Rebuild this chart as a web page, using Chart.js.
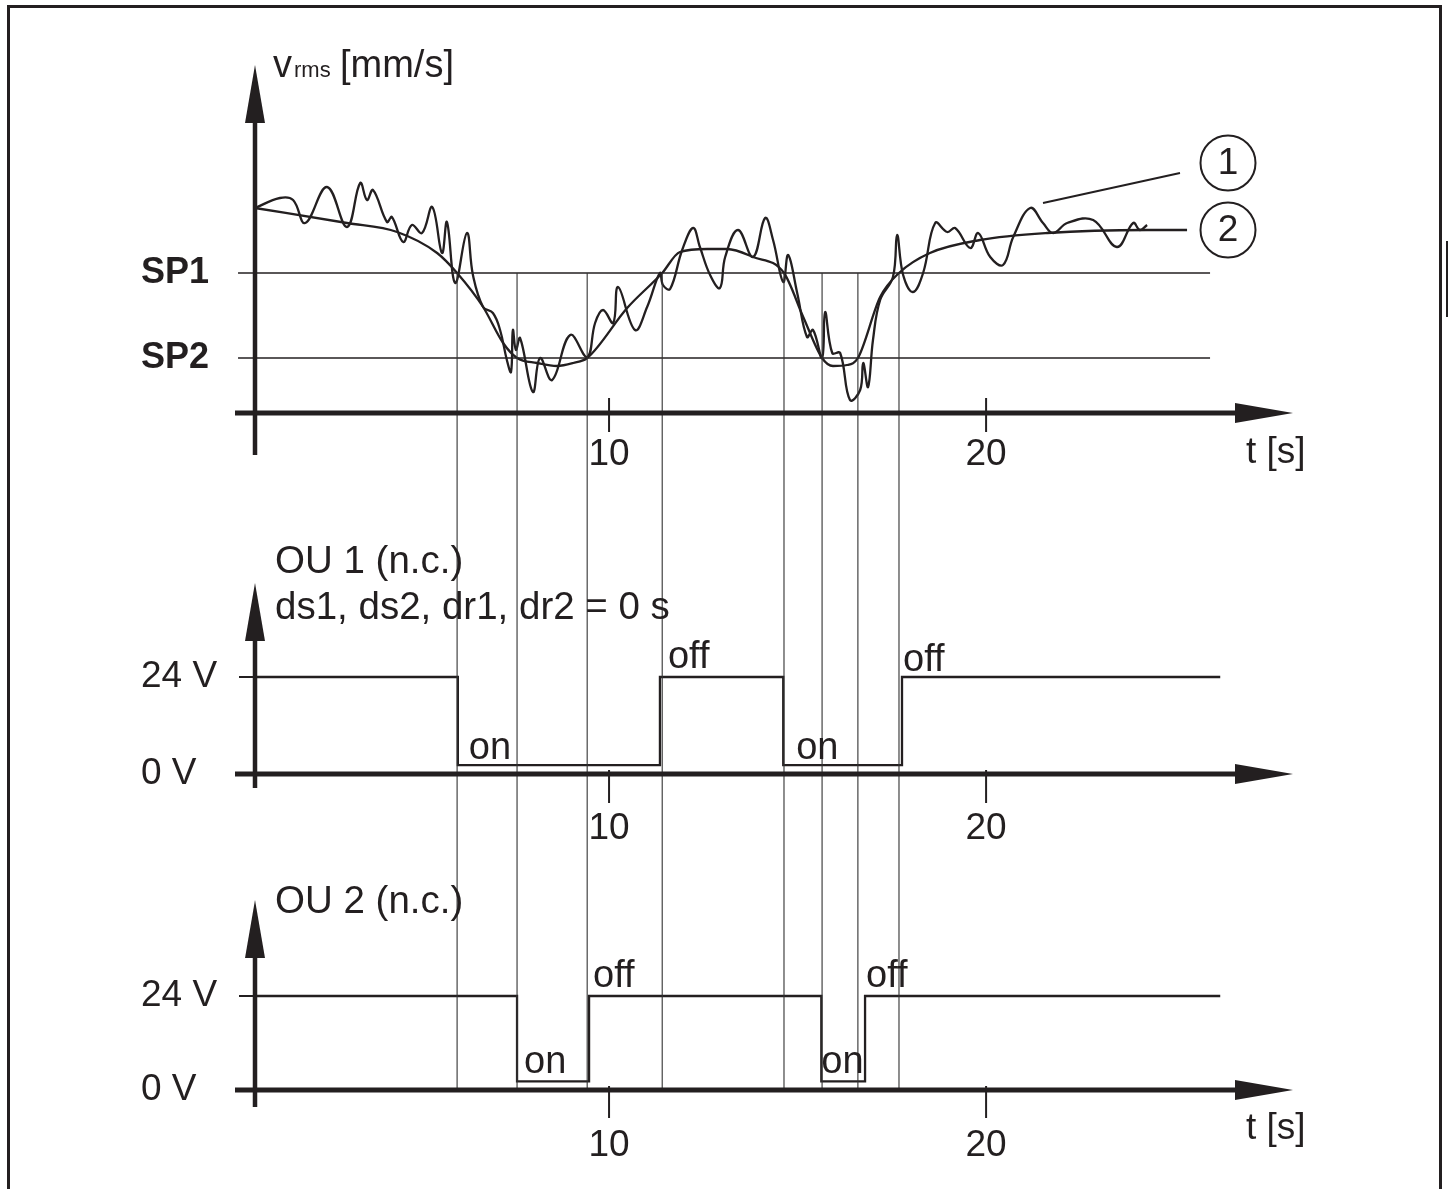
<!DOCTYPE html>
<html><head><meta charset="utf-8">
<script src="https://cdn.jsdelivr.net/npm/chart.js@4.4.1/dist/chart.umd.min.js"></script>
<style>
html,body{margin:0;padding:0;background:#fff;}
body{width:1448px;height:1189px;position:relative;overflow:hidden;}
canvas{position:absolute;left:0;}
#frame{position:absolute;left:7px;top:5px;width:1435px;height:1300px;border:3px solid #231f20;border-bottom:none;box-sizing:border-box;}
#tab{position:absolute;left:1446px;top:241px;width:3px;height:76px;background:#231f20;}
</style></head>
<body>
<div id="frame"></div><div id="tab"></div>
<canvas id="c1" width="1448" height="480" style="top:0px"></canvas>
<canvas id="c2" width="1448" height="380" style="top:480px"></canvas>
<canvas id="c3" width="1448" height="329" style="top:860px"></canvas>
<script>
// ---------- data ----------
const xTickValues = [10, 20];
const spNames = ['SP2', 'SP1'];
const spValues = [5.5, 14];
// curve 1: measured v_rms (noisy)
const noisyT = [0.61,1.27,1.62,1.94,2.52,3.05,3.40,3.58,3.74,4.11,4.24,4.54,4.77,5.04,5.31,5.57,5.70,5.92,6.23,6.39,6.66,6.92,7.11,7.29,7.40,7.45,7.53,7.64,7.98,8.17,8.49,8.97,9.42,9.63,9.84,10.11,10.24,10.69,11.01,11.35,11.43,11.62,11.94,12.23,12.41,12.68,12.94,13.08,13.42,13.82,14.14,14.35,14.62,14.75,14.99,15.25,15.41,15.65,15.73,15.92,16.13,16.39,16.66,16.74,16.87,17.00,17.19,17.53,17.64,17.80,18.06,18.33,18.65,18.97,19.18,19.58,19.79,20.11,20.45,20.72,21.17,21.51,21.78,22.15,22.84,23.47,23.90,24.08,24.27];
const noisyV = [20.5,21.5,21.3,19.0,22.6,18.6,23.0,21.3,22.3,19.1,19.6,17.1,18.8,18.0,20.6,16.0,19.1,13.0,18.0,13.8,10.6,10.0,8.3,5.3,4.1,8.3,6.3,7.5,2.1,5.5,3.3,7.8,5.6,9.0,10.3,9.0,12.6,8.3,10.6,14.0,12.8,12.4,16.3,18.5,16.6,13.8,12.5,15.6,18.3,15.6,19.5,17.3,13.1,15.8,12.0,7.6,8.3,5.5,10.1,6.0,6.0,1.3,2.3,5.0,2.6,7.3,11.3,13.6,17.8,13.8,12.1,14.0,19.0,18.1,18.5,16.5,18.0,15.6,14.8,17.6,20.5,19.0,18.0,19.0,19.3,16.6,19.0,18.3,18.8];
// curve 2: smoothed v_rms
const smoothT = [0.61,3.05,4.38,5.44,5.97,6.66,7.19,7.56,8.09,8.62,9.05,9.42,10.48,11.41,11.88,12.60,13.13,13.82,14.64,15.15,15.65,15.94,16.31,16.60,17.19,17.69,18.51,19.84,21.62,24.27,25.33];
const smoothV = [20.5,19.0,18.1,16.0,14.0,10.6,7.0,5.5,5.0,4.7,5.0,5.5,10.5,14.0,16.1,16.4,16.4,15.6,14.0,9.6,5.5,4.7,4.8,5.5,11.6,14.0,16.0,17.3,18.0,18.3,18.3];
const spLineT = [0.16, 25.94];
// switching instants (vertical guide lines)
const switchTimes = [5.97, 7.56, 9.42, 11.41, 14.64, 15.65, 16.60, 17.69];
// outputs
const voltNames = ['0 V', '24 V'];
const voltValues = [0, 24];
const ou1T = [0.61, 5.99, 11.35, 14.62, 17.77, 26.21];
const ou1V = [24, 2.2, 24, 2.2, 24, 24];
const ou2T = [0.61, 7.56, 9.47, 15.63, 16.79, 26.21];
const ou2V = [24, 2.2, 24, 2.2, 24, 24];

// ---------- style / layout ----------
const INK = '#231f20';
const FAM = "'Liberation Sans', Arial, Helvetica, sans-serif";
Chart.defaults.font.family = FAM;
Chart.defaults.color = INK;
const T0 = 0.61, TMAX = 28.14;

const pts = (ts, vs) => ts.map((t, i) => ({x: t, y: vs[i]}));
function vlines(top, bottom) {
  const d = [];
  switchTimes.forEach(t => { d.push({x: t, y: top}, {x: t, y: bottom}, {x: t, y: null}); });
  return {data: d, borderColor: '#333333', borderWidth: 1.1, spanGaps: false, clip: false, pointRadius: 0, tension: 0};
}

function decor(o) {
  return {
    id: 'decor',
    afterDatasetsDraw(chart) {
      const {ctx, chartArea: ca, scales: {x, y}} = chart;
      const ax = ca.left, ay = y.getPixelForValue(0);
      ctx.save();
      ctx.fillStyle = INK; ctx.strokeStyle = INK; ctx.lineCap = 'butt';
      // y axis
      ctx.lineWidth = 4.5;
      ctx.beginPath(); ctx.moveTo(ax, ay + o.yBelow); ctx.lineTo(ax, ca.top + 50); ctx.stroke();
      ctx.beginPath(); ctx.moveTo(ax, ca.top); ctx.lineTo(ax - 10, ca.top + 58); ctx.lineTo(ax + 10, ca.top + 58); ctx.closePath(); ctx.fill();
      // x axis
      ctx.lineWidth = 5;
      ctx.beginPath(); ctx.moveTo(ax - 20, ay); ctx.lineTo(ca.right - 50, ay); ctx.stroke();
      ctx.beginPath(); ctx.moveTo(ca.right, ay); ctx.lineTo(ca.right - 58, ay - 10); ctx.lineTo(ca.right - 58, ay + 10); ctx.closePath(); ctx.fill();
      // ticks
      ctx.lineWidth = 2;
      x.ticks.forEach(t => {
        const px = x.getPixelForValue(t.value);
        ctx.beginPath(); ctx.moveTo(px, ay - o.tickUp); ctx.lineTo(px, ay + o.tickDown); ctx.stroke();
      });
      // axis title
      ctx.font = '37px ' + FAM; ctx.textAlign = 'left'; ctx.textBaseline = 'alphabetic';
      ctx.fillText('t [s]', 1246, o.tBase);
      if (o.extra) o.extra(chart, ctx, ax, ay);
      ctx.restore();
    }
  };
}

function makeChart(id, o) {
  return new Chart(document.getElementById(id), {
    type: 'line',
    data: {datasets: o.datasets},
    options: {
      responsive: false, animation: false, events: [],
      layout: {padding: {left: 141, right: 155, top: o.top, bottom: 0}},
      plugins: {legend: {display: false}, tooltip: {enabled: false}, title: {display: false}},
      elements: {point: {radius: 0}},
      scales: {
        x: {
          type: 'linear', min: T0, max: TMAX,
          grid: {display: false, drawTicks: false}, border: {display: false},
          afterBuildTicks: s => { s.ticks = xTickValues.map(v => ({value: v})); },
          afterFit: s => { s.height = o.xh; },
          ticks: {padding: o.xpad, font: {size: 37}, color: INK, maxRotation: 0, autoSkip: false, callback: v => String(v)}
        },
        y: {
          type: 'linear', min: o.ymin, max: o.ymax,
          grid: {display: false, drawTicks: false}, border: {display: false},
          afterBuildTicks: s => { s.ticks = o.yVals.map(v => ({value: v})); },
          afterFit: s => { s.width = 114; },
          ticks: {padding: 0, crossAlign: 'far', font: o.yFont, color: INK, autoSkip: false, callback: (v, i) => o.yNames[i]}
        }
      }
    },
    plugins: [decor(o)]
  });
}

function stepLabels(ctx, chart, ts, vs, dxs, dys) {
  const {x, y} = chart.scales;
  ctx.font = '38px ' + FAM; ctx.textAlign = 'left'; ctx.textBaseline = 'alphabetic';
  for (let i = 1; i <= 4; i++) {
    const txt = vs[i] < 12 ? 'on' : 'off';
    ctx.fillText(txt, x.getPixelForValue(ts[i]) + dxs[i - 1], y.getPixelForValue(vs[i]) - dys[i - 1]);
  }
}
function voltTick(ctx, chart, ax) {
  const py = chart.scales.y.getPixelForValue(24);
  ctx.lineWidth = 2;
  ctx.beginPath(); ctx.moveTo(ax - 16, py); ctx.lineTo(ax + 15, py); ctx.stroke();
}

// ---------- top panel ----------
makeChart('c1', {
  top: 65, ymin: 0, ymax: 34.8, xh: 67, xpad: 19.5,
  yVals: spValues, yNames: spNames, yFont: {size: 36, weight: 'bold'},
  yBelow: 42, tickUp: 15, tickDown: 19, tBase: 463,
  datasets: [
    vlines(14, -7),
    {data: pts(spLineT, [spValues[0], spValues[0]]), borderColor: INK, borderWidth: 1.4, clip: false, pointRadius: 0},
    {data: pts(spLineT, [spValues[1], spValues[1]]), borderColor: INK, borderWidth: 1.4, clip: false, pointRadius: 0},
    {data: pts(smoothT, smoothV), borderColor: INK, borderWidth: 2.3, cubicInterpolationMode: 'monotone', pointRadius: 0, clip: false},
    {data: pts(noisyT, noisyV), borderColor: INK, borderWidth: 2.3, tension: 0.4, pointRadius: 0, clip: false}
  ],
  extra: (chart, ctx) => {
    ctx.textBaseline = 'alphabetic'; ctx.textAlign = 'left';
    ctx.font = '38px ' + FAM; ctx.fillText('v', 273, 77);
    ctx.font = '22px ' + FAM; ctx.fillText('rms', 294, 77);
    ctx.font = '38px ' + FAM; ctx.fillText('[mm/s]', 340, 77);
    // callouts
    ctx.lineWidth = 2;
    ctx.beginPath(); ctx.moveTo(1043, 203); ctx.lineTo(1180, 173); ctx.stroke();
    [[1228, 163, '1'], [1228, 230, '2']].forEach(c => {
      ctx.beginPath(); ctx.arc(c[0], c[1], 27.5, 0, Math.PI * 2); ctx.stroke();
      ctx.font = '37px ' + FAM; ctx.textAlign = 'center'; ctx.textBaseline = 'middle';
      ctx.fillText(c[2], c[0], c[1] + 1);
    });
  }
});

// ---------- OU 1 ----------
makeChart('c2', {
  top: 103, ymin: 0, ymax: 47.26, xh: 86, xpad: 32.5,
  yVals: voltValues, yNames: voltNames, yFont: {size: 37},
  yBelow: 14, tickUp: 4, tickDown: 29, tBase: 821,
  datasets: [
    vlines(73, -22),
    {data: pts(ou1T, ou1V), borderColor: INK, borderWidth: 2.3, stepped: true, pointRadius: 0, clip: false}
  ],
  extra: (chart, ctx, ax) => {
    voltTick(ctx, chart, ax);
    ctx.font = '38.5px ' + FAM; ctx.textAlign = 'left'; ctx.textBaseline = 'alphabetic';
    ctx.fillText('OU 1 (n.c.)', 275, 93);
    ctx.fillText('ds1, ds2, dr1, dr2 = 0 s', 275, 139);
    stepLabels(ctx, chart, ou1T, ou1V, [11, 8, 13, 1], [6, 9, 6, 6]);
  }
});

// ---------- OU 2 ----------
makeChart('c3', {
  top: 40, ymin: 0, ymax: 48.51, xh: 99, xpad: 34,
  yVals: voltValues, yNames: voltNames, yFont: {size: 37},
  yBelow: 17, tickUp: 4, tickDown: 28, tBase: 279,
  datasets: [
    vlines(59, 0),
    {data: pts(ou2T, ou2V), borderColor: INK, borderWidth: 2.3, stepped: true, pointRadius: 0, clip: false}
  ],
  extra: (chart, ctx, ax) => {
    voltTick(ctx, chart, ax);
    ctx.font = '38.5px ' + FAM; ctx.textAlign = 'left'; ctx.textBaseline = 'alphabetic';
    ctx.fillText('OU 2 (n.c.)', 275, 53);
    stepLabels(ctx, chart, ou2T, ou2V, [7, 4, 0, 1], [8, 9, 8, 9]);
  }
});
</script>
</body></html>
